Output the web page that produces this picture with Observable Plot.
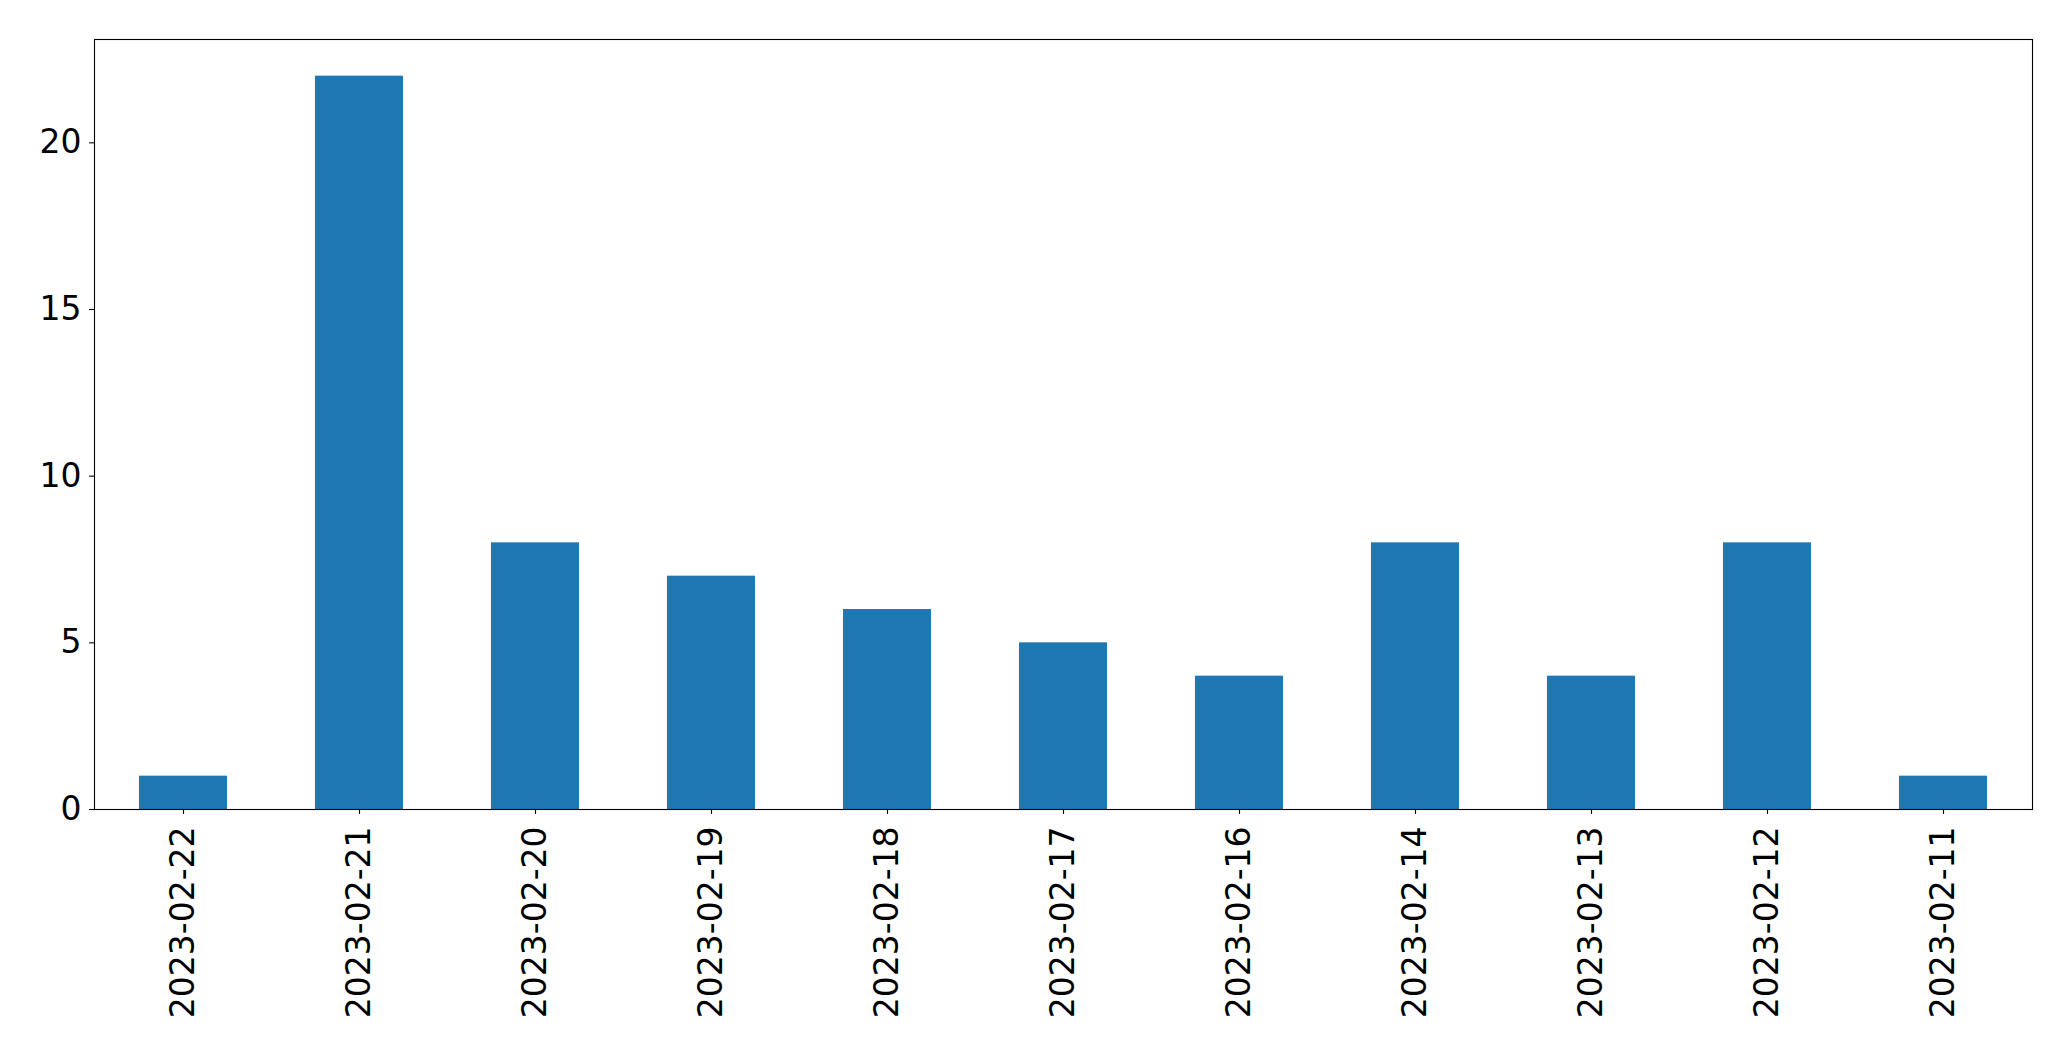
<!DOCTYPE html>
<html>
<head>
<meta charset="utf-8">
<script src="https://cdn.jsdelivr.net/npm/d3@7"></script>
<script src="https://cdn.jsdelivr.net/npm/@observablehq/plot@0.6"></script>
<style>
  html, body { margin: 0; padding: 0; background: #fff; }
  #chart svg { display: block; }
</style>
</head>
<body>
<div id="chart"></div>
<script>
const dates = ["2023-02-22","2023-02-21","2023-02-20","2023-02-19","2023-02-18","2023-02-17","2023-02-16","2023-02-14","2023-02-13","2023-02-12","2023-02-11"];
const counts = [1,22,8,7,6,5,4,8,4,8,1];
const yTicks = [0,5,10,15,20];

const data = dates.map((d, i) => ({date: d, count: counts[i]}));

const chart = Plot.plot({
  width: 2071,
  height: 1061,
  marginLeft: 94,
  marginTop: 39,
  marginRight: 39,
  marginBottom: 252,
  style: {fontFamily: "DejaVu Sans", background: "#fff", color: "#000"},
  x: {type: "band", domain: dates, paddingInner: 0.5, paddingOuter: 0.25},
  y: {domain: [0, 23.1]},
  marks: [
    Plot.barY(data, {x: "date", y: "count", fill: "#1f77b4"}),
    Plot.frame({stroke: "#000", strokeWidth: 1.1}),
    Plot.axisY({ticks: yTicks, tickSize: 4.9, tickPadding: 8, fontSize: 33, label: null, stroke: "#000", strokeWidth: 1.1}),
    Plot.axisX({tickSize: 4.9, tickPadding: 12, tickRotate: -90, fontSize: 33, label: null, stroke: "#000", strokeWidth: 1.1})
  ]
});
document.getElementById("chart").appendChild(chart);
</script>
</body>
</html>
